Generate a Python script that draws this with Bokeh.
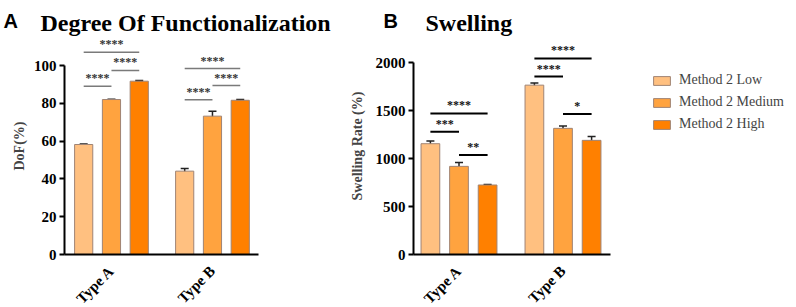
import numpy as np
from bokeh.plotting import figure
from bokeh.models import (ColumnDataSource, Range1d, FixedTicker, Whisker, TeeHead,
                          Legend, LegendItem)
from bokeh.layouts import row, column
from bokeh.embed import file_html
from bokeh.resources import INLINE
from bokeh.core.properties import value

# ---------------- data ----------------
groups = ["Type A", "Type B"]
methods = ["Method 2 Low", "Method 2 Medium", "Method 2 High"]
colors = ["#FFC080", "#FFA33F", "#FF8000"]

dof_low = [58.2, 44.1]
dof_med = [82.0, 73.2]
dof_high = [91.7, 81.6]
dof_low_err = [0.2, 1.4]
dof_med_err = [0.2, 2.6]
dof_high_err = [0.3, 0.4]

sw_low = [1154, 1764]
sw_med = [918, 1314]
sw_high = [724, 1189]
sw_low_err = [28, 22]
sw_med_err = [40, 24]
sw_high_err = [5, 40]

dof_ticks = [0, 20, 40, 60, 80, 100]
sw_ticks = [0, 500, 1000, 1500, 2000]

# significance brackets: group, bar i, bar j, height, label
dof_sig_group = [0, 0, 0, 1, 1, 1]
dof_sig_i = [0, 1, 0, 0, 1, 0]
dof_sig_j = [1, 2, 2, 1, 2, 2]
dof_sig_y = [89.0, 97.4, 107.0, 81.9, 89.4, 98.4]
dof_sig_lab = ["****", "****", "****", "****", "****", "****"]

sw_sig_group = [0, 0, 0, 1, 1, 1]
sw_sig_i = [0, 1, 0, 0, 1, 0]
sw_sig_j = [1, 2, 2, 1, 2, 2]
sw_sig_y = [1279, 1036, 1470, 1854, 1463, 2042]
sw_sig_lab = ["***", "**", "****", "****", "*", "****"]

panel_letters = ["A", "B"]
panel_titles = ["Degree Of Functionalization", "Swelling"]

SERIF = "Liberation Serif"
SANS = "Liberation Sans"
PITCH = 0.275
BAR_W = 0.18
offsets = [-PITCH, 0.0, PITCH]
TOTAL_W = 792
TITLE_H = 37
FRAME_H = 217


def make_panel(series, errs, ticks, ymax_axis, sig, ylabel, label_standoff,
               x_start, px_per_unit, axis_px, frame_w, y_end,
               border_left, border_right, sig_color, sig_width, sig_text_color):
    x_end = x_start + frame_w / px_per_unit
    p = figure(frame_width=frame_w, frame_height=FRAME_H,
               min_border_left=border_left, min_border_right=border_right,
               min_border_top=0, min_border_bottom=45,
               x_range=Range1d(x_start, x_end), y_range=Range1d(0, y_end),
               output_backend="svg", toolbar_location=None, tools="")
    p.outline_line_color = None
    p.xgrid.visible = False
    p.ygrid.visible = False

    gx = np.arange(len(groups), dtype=float)
    renderers = []
    for k, (vals, e) in enumerate(zip(series, errs)):
        xs = gx + offsets[k]
        src = ColumnDataSource(dict(x=xs, top=vals,
                                    upper=np.array(vals) + np.array(e),
                                    lower=np.array(vals) - np.array(e)))
        r = p.vbar(x="x", top="top", width=BAR_W, bottom=0, source=src,
                   fill_color=colors[k], line_color="#a08474", line_width=1)
        renderers.append(r)
        w = Whisker(source=src, base="x", upper="upper", lower="lower",
                    line_color="#222222", line_width=1.5,
                    upper_head=TeeHead(size=8, line_width=1.5, line_color="#222222"),
                    lower_head=TeeHead(size=8, line_width=1.5, line_color="#222222"))
        p.add_layout(w)

    g, si, sj, sy, lab = sig
    x0 = np.array(g) + np.array([offsets[i] for i in si])
    x1 = np.array(g) + np.array([offsets[j] for j in sj])
    ssrc = ColumnDataSource(dict(x0=x0, x1=x1, y=sy, xm=(x0 + x1) / 2, lab=lab))
    p.segment(x0="x0", y0="y", x1="x1", y1="y", source=ssrc,
              line_color=sig_color, line_width=sig_width)
    p.text(x="xm", y="y", text="lab", source=ssrc, text_align="center",
           text_baseline="bottom", y_offset=-1, text_font=value(SERIF),
           text_font_style="bold", text_font_size="12px", text_color=sig_text_color)

    for ax in (p.xaxis[0], p.yaxis[0]):
        ax.axis_line_width = 2
        ax.axis_line_color = "black"
        ax.major_tick_line_width = 2
        ax.major_tick_in = 0
        ax.minor_tick_in = 0
        ax.minor_tick_out = 0
        ax.major_label_text_font = SERIF
        ax.major_label_text_font_style = "bold"
        ax.major_label_text_font_size = "15px"
        ax.major_label_text_color = "black"
    p.yaxis.ticker = FixedTicker(ticks=ticks)
    p.yaxis.bounds = (0, ymax_axis)
    p.yaxis.major_tick_out = 5
    p.yaxis.major_label_standoff = 3
    p.yaxis.axis_label = ylabel
    p.yaxis.axis_label_text_font = SERIF
    p.yaxis.axis_label_text_font_style = "bold"
    p.yaxis.axis_label_text_font_size = "14px"
    p.yaxis.axis_label_standoff = label_standoff
    p.xaxis.ticker = FixedTicker(ticks=list(range(len(groups))))
    p.xaxis.major_label_overrides = {i: gname for i, gname in enumerate(groups)}
    p.xaxis.major_label_orientation = np.pi / 4
    p.xaxis.major_tick_out = 0
    p.xaxis.major_label_standoff = 14
    p.xaxis.bounds = (x_start, x_start + axis_px / px_per_unit)
    return p, renderers


pA, _ = make_panel(
    [dof_low, dof_med, dof_high], [dof_low_err, dof_med_err, dof_high_err],
    dof_ticks, 100,
    (dof_sig_group, dof_sig_i, dof_sig_j, dof_sig_y, dof_sig_lab),
    "DoF(%)", 4,
    x_start=-0.465, px_per_unit=101.0, axis_px=194, frame_w=194,
    y_end=FRAME_H / 1.89, border_left=64, border_right=82,
    sig_color="#7a7a7a", sig_width=1.5, sig_text_color="#333333")

pB, rB = make_panel(
    [sw_low, sw_med, sw_high], [sw_low_err, sw_med_err, sw_high_err],
    sw_ticks, 2000,
    (sw_sig_group, sw_sig_i, sw_sig_j, sw_sig_y, sw_sig_lab),
    "Swelling Rate (%)", 8,
    x_start=-0.4375, px_per_unit=104.0, axis_px=197, frame_w=379,
    y_end=FRAME_H * 2000 / 192, border_left=73, border_right=0,
    sig_color="black", sig_width=2, sig_text_color="#111111")

legend = Legend(items=[LegendItem(label=m, renderers=[r]) for m, r in zip(methods, rB)],
                location=(238, 120), padding=0, margin=0, spacing=2,
                glyph_width=21, glyph_height=11, label_height=20, label_standoff=7,
                label_text_font=SERIF, label_text_font_size="14px",
                border_line_alpha=0, background_fill_alpha=0)
pB.add_layout(legend)

# title strip (pixel space, y measured upward from the strip's bottom)
tf = figure(width=TOTAL_W, height=TITLE_H, x_range=Range1d(0, TOTAL_W),
            y_range=Range1d(0, TITLE_H), x_axis_type=None, y_axis_type=None,
            min_border=0, output_backend="svg", toolbar_location=None, tools="")
tf.outline_line_color = None
tf.xgrid.visible = False
tf.ygrid.visible = False
tsrc_l = ColumnDataSource(dict(x=[3, 383], y=[TITLE_H - 20, TITLE_H - 20], t=panel_letters))
tsrc_t = ColumnDataSource(dict(x=[40, 425], y=[TITLE_H - 22, TITLE_H - 22], t=panel_titles))
tf.text(x="x", y="y", text="t", source=tsrc_l, text_font=value(SANS),
        text_font_style="bold", text_font_size="20px", text_baseline="alphabetic",
        text_color="black")
tf.text(x="x", y="y", text="t", source=tsrc_t, text_font=value(SERIF),
        text_font_style="bold", text_font_size="24px", text_baseline="alphabetic",
        text_color="black")

layout = column(tf, row(pA, pB), spacing=0)
open("out.html", "w").write(file_html(layout, INLINE))
